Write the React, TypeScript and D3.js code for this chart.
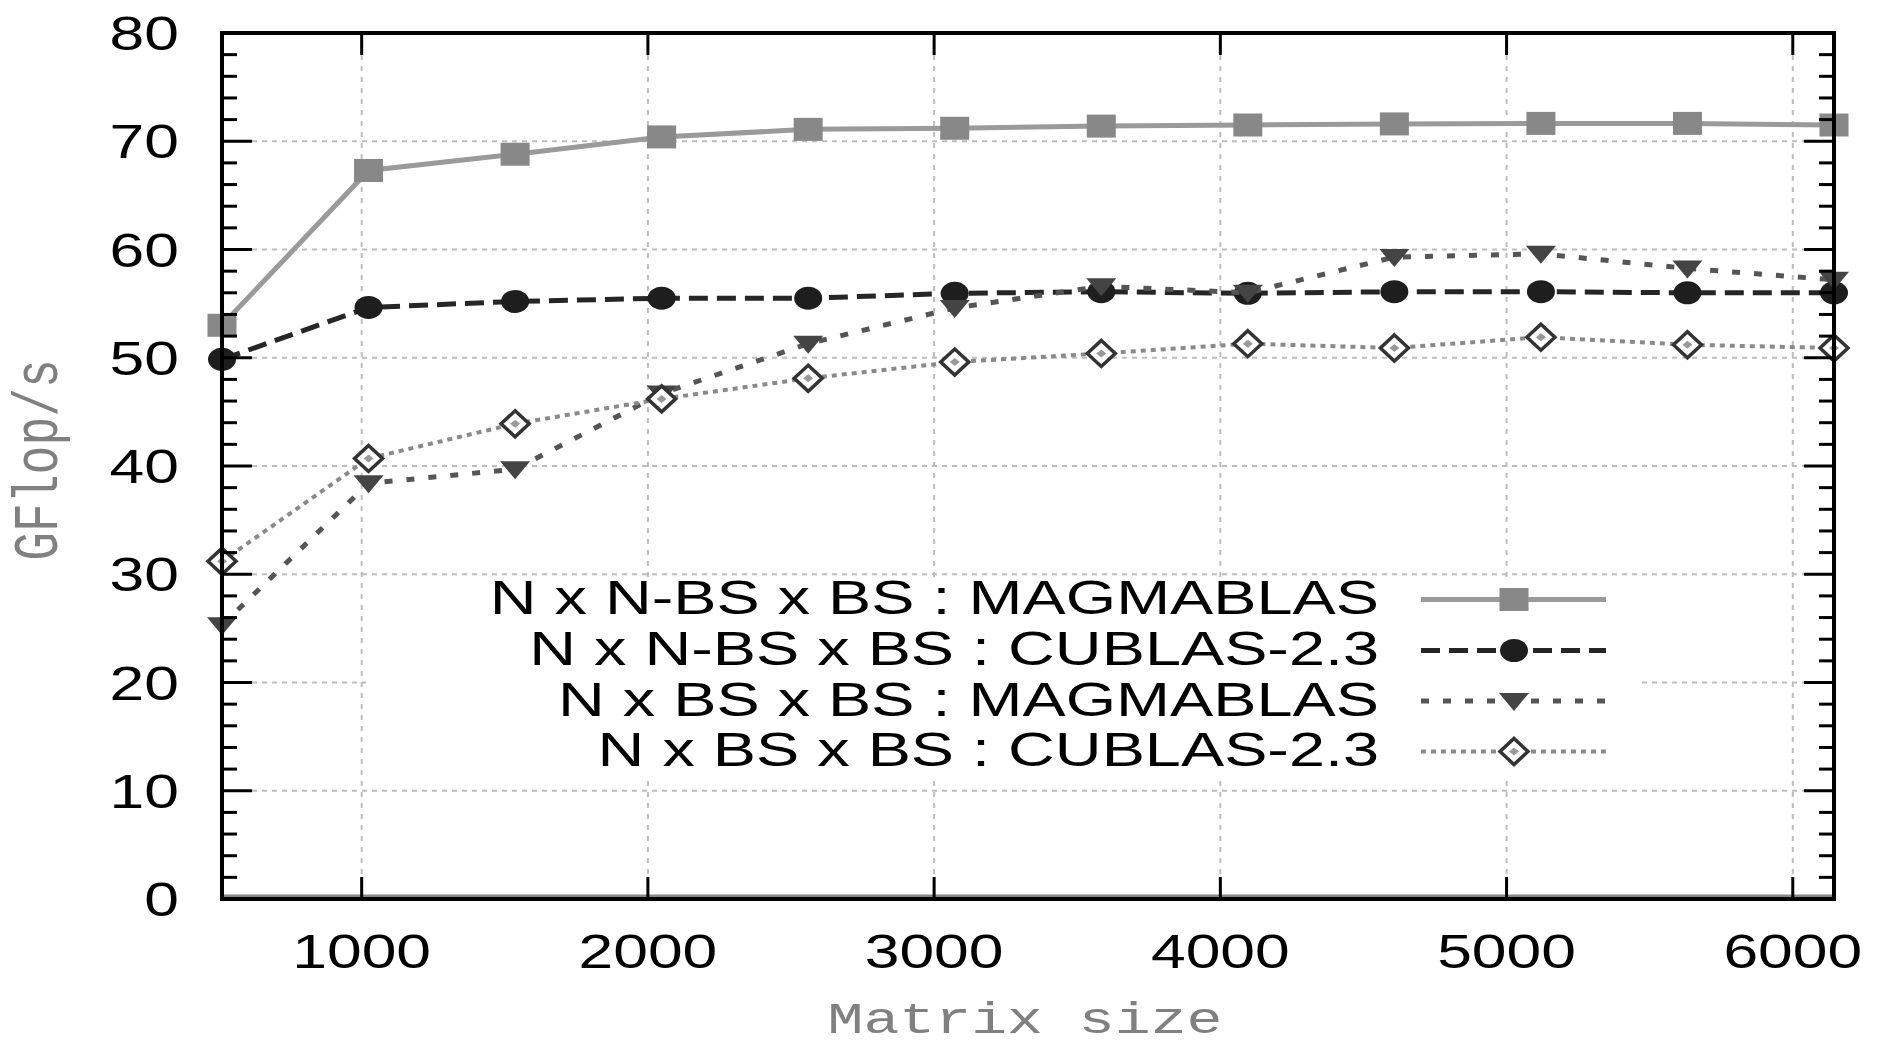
import React from "react";
import * as d3 from "d3";

const sizes = [512, 1024, 1536, 2048, 2560, 3072, 3584, 4096, 4608, 5120, 5632, 6144];
const magmaNN = [53.0, 67.3, 68.8, 70.4, 71.1, 71.2, 71.4, 71.5, 71.6, 71.65, 71.65, 71.5];
const cublasNN = [49.85, 54.65, 55.2, 55.5, 55.5, 55.95, 56.1, 55.95, 56.1, 56.1, 56.0, 56.0];
const magmaBS = [25.3, 38.4, 39.7, 46.7, 51.3, 54.6, 56.6, 56.0, 59.3, 59.6, 58.25, 57.2];
const cublasBS = [31.2, 40.7, 43.9, 46.2, 48.1, 49.6, 50.4, 51.3, 50.9, 51.9, 51.2, 50.9];

const seriesNames = [
  "N x N-BS x BS : MAGMABLAS",
  "N x N-BS x BS : CUBLAS-2.3",
  "N x BS x BS : MAGMABLAS",
  "N x BS x BS : CUBLAS-2.3",
];
const xTicks = [1000, 2000, 3000, 4000, 5000, 6000];
const yTicks = [0, 10, 20, 30, 40, 50, 60, 70, 80];
const yMinor = d3.range(0, 81, 2);
const xTitle = "Matrix size";
const yTitle = "GFlop/s";

const W = 1884;
const H = 1047;
const L = 222, R = 1834, T = 33, B = 899;
const SX = 1.3;
const SANS = "'Liberation Sans', Arial, Helvetica, sans-serif";
const MONO = "'Liberation Mono', 'Courier New', monospace";

const styles = [
  { stroke: "#9a9a9a", width: 5, dash: null, marker: "square", fill: "#888" },
  { stroke: "#262626", width: 5, dash: "19,9", marker: "circle", fill: "#1e1e1e" },
  { stroke: "#555", width: 5, dash: "8,14", marker: "tri", fill: "#444" },
  { stroke: "#8a8a8a", width: 4, dash: "5,5", marker: "diamond", fill: "#333" },
];

function Marker({ kind, x, y, fill }: { kind: string; x: number; y: number; fill: string }) {
  if (kind === "square") return <rect x={x - 14.5} y={y - 11.5} width={29} height={23} fill={fill} />;
  if (kind === "circle") return <ellipse cx={x} cy={y} rx={14} ry={11.5} fill={fill} />;
  if (kind === "tri")
    return <path d={`M${x - 15},${y - 8}L${x + 15},${y - 8}L${x},${y + 10}Z`} fill={fill} />;
  return (
    <g>
      <path d={`M${x},${y - 13}L${x + 14},${y}L${x},${y + 13}L${x - 14},${y}Z`} fill="#fff" stroke={fill} strokeWidth={3.5} />
      <path d={`M${x},${y - 4}L${x + 5},${y}L${x},${y + 4}L${x - 5},${y}Z`} fill="#999" />
    </g>
  );
}

function SText({ x, y, anchor, sx, size, family, fill, children, rotate }: any) {
  return (
    <text
      transform={`translate(${x},${y}) scale(${sx},1)${rotate ? ` rotate(${rotate})` : ""}`}
      textAnchor={anchor}
      fontSize={size}
      fontFamily={family}
      fill={fill}
    >
      {children}
    </text>
  );
}

export default function App() {
  const x = d3.scaleLinear().domain([512, 6144]).range([L, R]);
  const y = d3.scaleLinear().domain([0, 80]).range([B, T]);
  const all = [magmaNN, cublasNN, magmaBS, cublasBS];
  const line = d3
    .line<number>()
    .x((_, i) => x(sizes[i]))
    .y((d) => y(d));

  const legendY = [614, 665, 715.5, 766];

  return (
    <svg width={W} height={H} style={{ position: "absolute", left: 0, top: 0, background: "#fff" }}>
      <rect width={W} height={H} fill="#fff" />
      {yTicks.slice(1, -1).map((t) => (
        <line key={"gy" + t} x1={L} x2={R} y1={y(t)} y2={y(t)} stroke="#bdbdbd" strokeWidth={2} strokeDasharray="5,5" />
      ))}
      {xTicks.map((t) => (
        <line key={"gx" + t} x1={x(t)} x2={x(t)} y1={T} y2={B} stroke="#bdbdbd" strokeWidth={2} strokeDasharray="5,6" />
      ))}
      <line x1={L} x2={R} y1={B - 3} y2={B - 3} stroke="#888" strokeWidth={3} />
      <rect x={366} y={580} width={1640 - 366} height={197} fill="#fff" />
      {seriesNames.map((name, i) => {
        const s = styles[i];
        const ly = legendY[i] - 14.5;
        return (
          <g key={"leg" + i}>
            <SText x={1379} y={legendY[i]} anchor="end" sx={1.35} size={48} family={SANS} fill="#000">
              {name}
            </SText>
            <line x1={1421} x2={1606} y1={ly} y2={ly} stroke={s.stroke} strokeWidth={s.width} strokeDasharray={s.dash || undefined} />
            <Marker kind={s.marker} x={1514} y={ly} fill={s.fill} />
          </g>
        );
      })}
      {all.map((vals, i) => {
        const s = styles[i];
        return (
          <g key={"s" + i}>
            <path d={line(vals) || ""} fill="none" stroke={s.stroke} strokeWidth={s.width} strokeDasharray={s.dash || undefined} />
            {vals.map((v, j) => (
              <Marker key={j} kind={s.marker} x={x(sizes[j])} y={y(v)} fill={s.fill} />
            ))}
          </g>
        );
      })}
      {yMinor.map((t) => {
        const major = t % 10 === 0;
        const len = major ? 30 : 15;
        return (
          <g key={"ty" + t}>
            <line x1={L} x2={L + len} y1={y(t)} y2={y(t)} stroke="#000" strokeWidth={3} />
            <line x1={R - len} x2={R} y1={y(t)} y2={y(t)} stroke="#000" strokeWidth={3} />
          </g>
        );
      })}
      {xTicks.map((t) => (
        <g key={"tx" + t}>
          <line x1={x(t)} x2={x(t)} y1={B} y2={B - 22} stroke="#000" strokeWidth={3} />
          <line x1={x(t)} x2={x(t)} y1={T} y2={T + 22} stroke="#000" strokeWidth={3} />
        </g>
      ))}
      <rect x={L} y={T} width={R - L} height={B - T} fill="none" stroke="#000" strokeWidth={4} />
      {yTicks.map((t) => (
        <SText key={"ly" + t} x={179} y={y(t) + 17} anchor="end" sx={SX} size={48} family={SANS} fill="#000">
          {t}
        </SText>
      ))}
      {xTicks.map((t) => (
        <SText key={"lx" + t} x={x(t)} y={968} anchor="middle" sx={SX} size={48} family={SANS} fill="#000">
          {t}
        </SText>
      ))}
      <SText x={1025} y={1033} anchor="middle" sx={1.36} size={44} family={MONO} fill="#808080">
        {xTitle}
      </SText>
      <SText x={57} y={460} anchor="middle" sx={1.3} size={48} family={MONO} fill="#808080" rotate={-90}>
        {yTitle}
      </SText>
    </svg>
  );
}
